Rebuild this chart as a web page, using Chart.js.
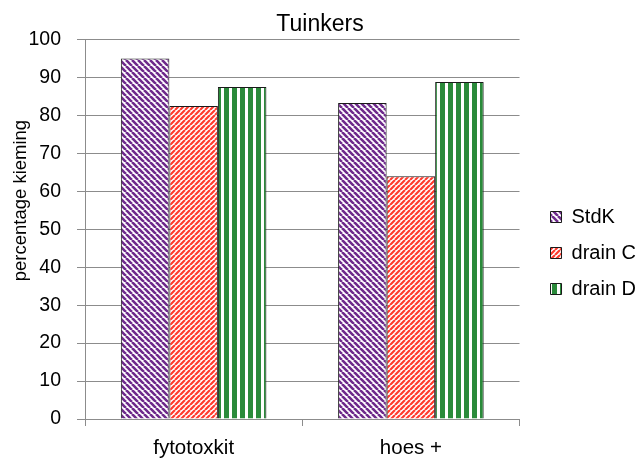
<!DOCTYPE html>
<html>
<head>
<meta charset="utf-8">
<script src="https://cdn.jsdelivr.net/npm/chart.js@4/dist/chart.umd.min.js"></script>
<style>
  html, body { margin: 0; padding: 0; background: #fff; }
</style>
</head>
<body>
<canvas id="tuinkers-chart" width="640" height="463"></canvas>
<script>
// data
const categories = ['fytotoxkit', 'hoes +'];
const seriesNames = ['StdK', 'drain C', 'drain D'];
const stdK = [95, 83.3];
const drainC = [82.5, 64];
const drainD = [87.5, 88.8];
const yMin = 0, yMax = 100, yStep = 10;
const yTitle = 'percentage kieming';

const ctx = document.getElementById('tuinkers-chart').getContext('2d');

// diagonal hatch: dir 1 = "/", dir -1 = "\"
function diagPattern(color, size, width, dir) {
    const c = document.createElement('canvas');
    c.width = size; c.height = size;
    const g = c.getContext('2d');
    g.fillStyle = '#fff';
    g.fillRect(0, 0, size, size);
    g.strokeStyle = color;
    g.lineWidth = width;
    g.beginPath();
    for (let k = -1; k <= 1; k++) {
        if (dir > 0) {
            g.moveTo(k * size, size);
            g.lineTo(k * size + size, 0);
        } else {
            g.moveTo(k * size, 0);
            g.lineTo(k * size + size, size);
        }
    }
    g.stroke();
    return ctx.createPattern(c, 'repeat');
}

// vertical stripes
function vertPattern(color, fillW, period) {
    const c = document.createElement('canvas');
    c.width = period; c.height = 4;
    const g = c.getContext('2d');
    g.fillStyle = '#fff';
    g.fillRect(0, 0, period, 4);
    g.fillStyle = color;
    g.fillRect(0, 0, fillW, 4);
    return ctx.createPattern(c, 'repeat');
}

const purpleHatch = diagPattern('#6e2a8c', 6, 2.6, -1);
const redHatch = diagPattern('#ff3b2f', 5, 2.2, 1);
const greenStripes = vertPattern('#2a8a3a', 5, 8);

const fonts = "'Liberation Sans', Arial, sans-serif";
const gridGrey = '#8c8c8c';

function makeDataset(label, data, fill) {
    return {
        label: label,
        data: data,
        backgroundColor: fill,
        borderColor: '#1a1a1a',
        borderWidth: 1,
        categoryPercentage: 0.67,
        barPercentage: 1.0
    };
}

// move the legend a bit right and down, like the original
const legendShift = {
    id: 'legendShift',
    afterLayout(chart) {
        const lg = chart.legend;
        if (!lg) return;
        lg.left += 15; lg.right += 15;
        lg.top += 18; lg.bottom += 18;
    }
};

// y axis title sits a bit above the middle in the original
const yTitlePlugin = {
    id: 'yTitlePlugin',
    afterDraw(chart) {
        const y = chart.scales.y;
        const c = chart.ctx;
        c.save();
        c.translate(y.left + 12, chart.chartArea.top + 161);
        c.rotate(-Math.PI / 2);
        c.font = "18.5px " + fonts;
        c.fillStyle = '#000';
        c.textAlign = 'center';
        c.textBaseline = 'middle';
        c.fillText(yTitle, 0, 0);
        c.restore();
    }
};

const chart = new Chart(ctx, {
    type: 'bar',
    data: {
        labels: categories,
        datasets: [
            makeDataset(seriesNames[0], stdK, purpleHatch),
            makeDataset(seriesNames[1], drainC, redHatch),
            makeDataset(seriesNames[2], drainD, greenStripes)
        ]
    },
    plugins: [legendShift, yTitlePlugin],
    options: {
        responsive: false,
        animation: false,
        layout: { padding: { left: 9, right: 9, top: 7, bottom: 0 } },
        plugins: {
            title: {
                display: true,
                text: 'Tuinkers',
                color: '#000',
                font: { family: fonts, size: 23, weight: 'normal' },
                padding: { top: 4, bottom: 1 }
            },
            legend: {
                position: 'right',
                labels: {
                    color: '#000',
                    font: { family: fonts, size: 20 },
                    boxWidth: 11,
                    boxHeight: 11,
                    padding: 16
                }
            },
            tooltip: { enabled: false }
        },
        scales: {
            x: {
                offset: true,
                afterFit: (scale) => { scale.height = 44; },
                grid: {
                    offset: true,
                    drawOnChartArea: false,
                    color: gridGrey,
                    tickLength: 7
                },
                border: { color: gridGrey },
                ticks: {
                    color: '#000',
                    font: { family: fonts, size: 20.5 },
                    padding: 10
                }
            },
            y: {
                min: yMin,
                max: yMax,
                afterFit: (scale) => { scale.width = 76; },
                grid: {
                    color: gridGrey,
                    tickLength: 8
                },
                border: { color: gridGrey },
                ticks: {
                    stepSize: yStep,
                    color: '#000',
                    font: { family: fonts, size: 19.5 },
                    padding: 16
                }
            }
        }
    }
});
</script>
</body>
</html>
